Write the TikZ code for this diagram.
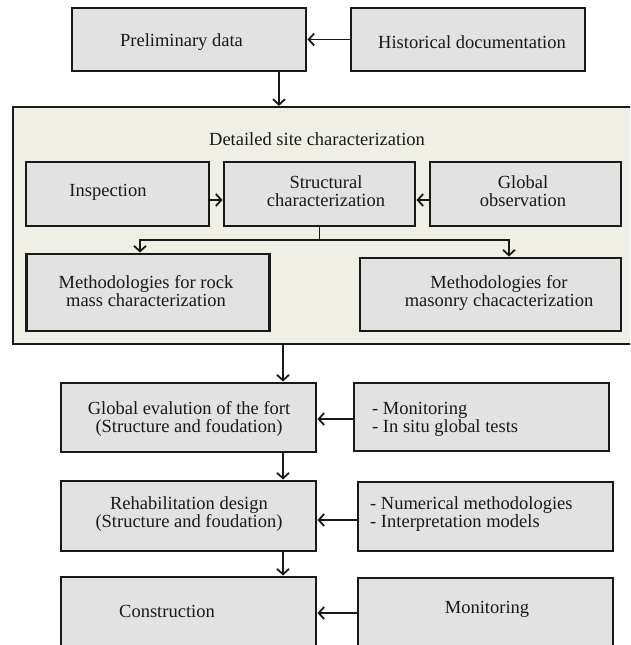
\documentclass[tikz,border=0pt]{standalone}
\usepackage{fontspec}
\setmainfont{Liberation Serif}
\usetikzlibrary{arrows.meta,calc}
\definecolor{boxgrey}{RGB}{226,226,226}
\definecolor{panelbg}{RGB}{240,239,229}
\definecolor{ink}{RGB}{25,25,25}
\begin{document}
\begin{tikzpicture}[x=1pt,y=-1pt,
  box/.style={draw=ink, fill=boxgrey, line width=2.9pt, inner sep=0pt},
  panelbox/.style={draw=ink, fill=panelbg, line width=2.2pt, inner sep=0pt},
  txt/.style={font=\fontsize{18.5}{18}\selectfont, inner sep=0pt, anchor=base, text=ink},
  conn/.style={draw=ink, line width=1.8pt, -{Straight Barb[length=5.5pt,width=12pt,line width=1.8pt]}}]
\useasboundingbox (0,0) rectangle (630,645);
\clip (0,0) rectangle (630,645);

% top row
\node[box, minimum width=234, minimum height=63] (prelim) at (189,39.5) {};
\node[box, minimum width=234, minimum height=63] (hist) at (468,39.5) {};
\node[txt] (tprelim) at (181.5,46) {Preliminary data};
\node[txt] (thist) at (472,48) {Historical documentation};

% site characterization panel (runs past the right edge)
\node[panelbox, minimum width=627, minimum height=237] (panel) at (326.5,225.5) {};
\node[txt] (tpanel) at (317,145) {Detailed site characterization};

\node[box, minimum width=183, minimum height=64] (insp) at (117.5,194) {};
\node[box, minimum width=191, minimum height=64] (struct) at (319.5,194) {};
\node[box, minimum width=191, minimum height=64] (gobs) at (525.5,194) {};
\node[txt] (tinsp) at (108,196) {Inspection};
\node[txt] (tstruct) at (326,188) {\begin{tabular}[t]{@{}c@{}}Structural\\characterization\end{tabular}};
\node[txt] (tgobs) at (523,188) {\begin{tabular}[t]{@{}c@{}}Global\\observation\end{tabular}};

\node[box, minimum width=243, minimum height=77] (methrock) at (148,292.5) {};
\node[box, minimum width=261, minimum height=73] (methmas) at (490.5,294.5) {};
\node[txt] (tmethrock) at (146,288) {\begin{tabular}[t]{@{}c@{}}Methodologies for rock\\mass characterization\end{tabular}};
\node[txt] (tmethmas) at (499,288) {\begin{tabular}[t]{@{}c@{}}Methodologies for\\masonry chacacterization\end{tabular}};

% lower chain
\node[box, minimum width=255, minimum height=69] (geval) at (188.5,417.5) {};
\node[box, minimum width=255, minimum height=68] (mon1) at (481.5,417) {};
\node[box, minimum width=255, minimum height=70] (rehab) at (188.5,516) {};
\node[box, minimum width=255, minimum height=69] (nummeth) at (485.5,516.5) {};
\node[box, minimum width=255, minimum height=70] (constr) at (188.5,612) {};
\node[box, minimum width=255, minimum height=70] (mon2) at (485.5,613) {};

\node[txt] (tgeval) at (189,414) {\begin{tabular}[t]{@{}c@{}}Global evalution of the fort\\(Structure and foudation)\end{tabular}};
\node[txt, anchor=base west] (tmon1) at (372,414) {\begin{tabular}[t]{@{}l@{}}- Monitoring\\- In situ global tests\end{tabular}};
\node[txt] (trehab) at (189,509) {\begin{tabular}[t]{@{}c@{}}Rehabilitation design\\(Structure and foudation)\end{tabular}};
\node[txt, anchor=base west] (tnummeth) at (370,509) {\begin{tabular}[t]{@{}l@{}}- Numerical methodologies\\- Interpretation models\end{tabular}};
\node[txt] (tconstr) at (167,617) {Construction};
\node[txt] (tmon2) at (487,613) {Monitoring};

% connectors
\draw[conn] (hist.west) -- (prelim.east);
\draw[conn] ([xshift=90pt]prelim.south) -- ([xshift=90pt]prelim.south |- panel.north);

\draw[conn] ([yshift=-6pt]insp.east) -- ([yshift=-6pt]insp.east -| struct.west);
\draw[conn] ([yshift=-6pt]gobs.west) -- ([yshift=-6pt]gobs.west -| struct.east);

\coordinate (bl) at (140,240);
\coordinate (br) at (509,240);
\draw[conn] (struct.south) |- (bl) -- (bl |- methrock.north);
\draw[conn] (struct.south) |- (br) -- (br |- methmas.north);

\draw[conn] ([xshift=94.5pt]geval.north |- panel.south) -- ([xshift=94.5pt]geval.north);
\draw[conn] ([xshift=94.5pt]geval.south) -- ([xshift=94.5pt]rehab.north);
\draw[conn] ([xshift=94.5pt]rehab.south) -- ([xshift=94.5pt]constr.north);

\draw[conn] ([yshift=-2pt]mon1.west) -- ([yshift=-2pt]mon1.west -| geval.east);
\draw[conn] ([yshift=-3.5pt]nummeth.west) -- ([yshift=-3.5pt]nummeth.west -| rehab.east);
\draw[conn] (mon2.west) -- (mon2.west -| constr.east);
\end{tikzpicture}
\end{document}
